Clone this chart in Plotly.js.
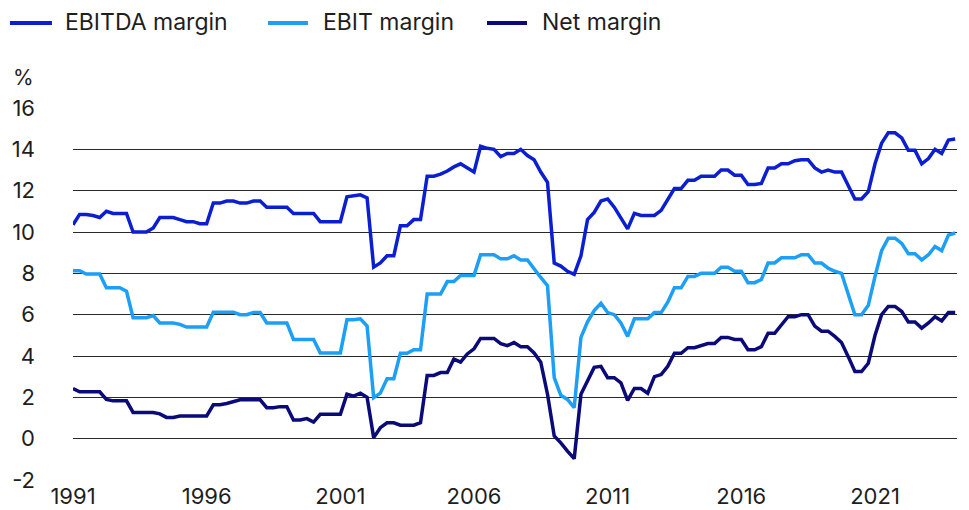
<!DOCTYPE html>
<html>
<head>
<meta charset="utf-8">
<script src="https://cdn.plot.ly/plotly-3.0.1.min.js"></script>
<style>
  html, body { margin: 0; padding: 0; background: #ffffff; }
  #chart { width: 969px; height: 510px; }
</style>
</head>
<body>
<div id="chart"></div>
<script>
// Quarterly observations, 1991 Q1 .. 2024 Q1 (%)
const firstYear = 1991;
const seriesNames = ["EBITDA margin", "EBIT margin", "Net margin"];
const seriesColors = ["#0b1fd1", "#1c9ff5", "#0a0a78"];

const ebitdaMargin = [
  10.35, 10.85, 10.85, 10.8,   // 1991
  10.7, 11.0, 10.9, 10.9,      // 1992
  10.9, 10.0, 10.0, 10.0,      // 1993
  10.2, 10.7, 10.7, 10.7,      // 1994
  10.6, 10.5, 10.5, 10.4,      // 1995
  10.4, 11.4, 11.4, 11.5,      // 1996
  11.5, 11.4, 11.4, 11.5,      // 1997
  11.5, 11.2, 11.2, 11.2,      // 1998
  11.2, 10.9, 10.9, 10.9,      // 1999
  10.9, 10.5, 10.5, 10.5,      // 2000
  10.5, 11.7, 11.75, 11.8,     // 2001
  11.65, 8.3, 8.5, 8.85,       // 2002
  8.85, 10.3, 10.3, 10.6,      // 2003
  10.6, 12.7, 12.7, 12.8,      // 2004
  12.95, 13.15, 13.3, 13.1,    // 2005
  12.9, 14.15, 14.05, 14.0,    // 2006
  13.65, 13.8, 13.8, 14.0,     // 2007
  13.7, 13.5, 12.9, 12.4,      // 2008
  8.5, 8.35, 8.1, 7.95,        // 2009
  8.85, 10.6, 10.95, 11.5,     // 2010
  11.6, 11.2, 10.7, 10.15,     // 2011
  10.9, 10.8, 10.8, 10.8,      // 2012
  11.05, 11.55, 12.1, 12.1,    // 2013
  12.5, 12.5, 12.7, 12.7,      // 2014
  12.7, 13.0, 13.0, 12.75,     // 2015
  12.75, 12.3, 12.3, 12.35,    // 2016
  13.1, 13.1, 13.3, 13.3,      // 2017
  13.45, 13.5, 13.5, 13.1,     // 2018
  12.9, 13.0, 12.9, 12.9,      // 2019
  12.2, 11.6, 11.6, 11.95,     // 2020
  13.3, 14.3, 14.8, 14.8,      // 2021
  14.55, 13.95, 13.95, 13.3,   // 2022
  13.55, 14.0, 13.8, 14.45,    // 2023
  14.5                         // 2024
];

const ebitMargin = [
  8.13, 8.13, 7.97, 7.97,      // 1991
  7.97, 7.3, 7.3, 7.3,         // 1992
  7.13, 5.85, 5.85, 5.85,      // 1993
  5.96, 5.6, 5.6, 5.6,         // 1994
  5.53, 5.4, 5.4, 5.4,         // 1995
  5.4, 6.12, 6.12, 6.12,       // 1996
  6.12, 6.0, 6.0, 6.1,         // 1997
  6.1, 5.6, 5.6, 5.6,          // 1998
  5.6, 4.8, 4.8, 4.8,          // 1999
  4.8, 4.15, 4.15, 4.15,       // 2000
  4.15, 5.75, 5.75, 5.8,       // 2001
  5.45, 1.98, 2.2, 2.9,        // 2002
  2.9, 4.13, 4.13, 4.3,        // 2003
  4.3, 7.0, 7.0, 7.0,          // 2004
  7.6, 7.6, 7.9, 7.9,          // 2005
  7.9, 8.9, 8.9, 8.9,          // 2006
  8.7, 8.7, 8.85, 8.65,        // 2007
  8.65, 8.2, 7.8, 7.4,         // 2008
  2.95, 2.1, 1.9, 1.5,         // 2009
  4.9, 5.65, 6.2, 6.55,        // 2010
  6.1, 6.0, 5.6, 4.95,         // 2011
  5.8, 5.8, 5.8, 6.1,          // 2012
  6.1, 6.6, 7.3, 7.3,          // 2013
  7.85, 7.85, 8.0, 8.0,        // 2014
  8.0, 8.3, 8.3, 8.1,          // 2015
  8.1, 7.55, 7.55, 7.7,        // 2016
  8.5, 8.5, 8.75, 8.75,        // 2017
  8.75, 8.9, 8.9, 8.5,         // 2018
  8.5, 8.25, 8.1, 8.0,         // 2019
  7.0, 6.0, 6.0, 6.45,         // 2020
  7.85, 9.1, 9.7, 9.7,         // 2021
  9.45, 8.95, 8.95, 8.65,      // 2022
  8.9, 9.3, 9.1, 9.85,         // 2023
  9.95                         // 2024
];

const netMargin = [
  2.43, 2.27, 2.27, 2.27,      // 1991
  2.27, 1.9, 1.83, 1.83,       // 1992
  1.83, 1.27, 1.27, 1.27,      // 1993
  1.27, 1.2, 1.03, 1.03,       // 1994
  1.1, 1.1, 1.1, 1.1,          // 1995
  1.1, 1.64, 1.64, 1.7,        // 1996
  1.78, 1.88, 1.88, 1.88,      // 1997
  1.88, 1.5, 1.5, 1.55,        // 1998
  1.55, 0.9, 0.9, 0.97,        // 1999
  0.8, 1.18, 1.18, 1.18,       // 2000
  1.18, 2.15, 2.06, 2.2,       // 2001
  2.0, 0.05, 0.53, 0.77,       // 2002
  0.77, 0.65, 0.65, 0.65,      // 2003
  0.77, 3.06, 3.06, 3.2,       // 2004
  3.2, 3.85, 3.7, 4.1,         // 2005
  4.35, 4.85, 4.85, 4.85,      // 2006
  4.6, 4.5, 4.65, 4.45,        // 2007
  4.45, 4.15, 3.7, 2.15,       // 2008
  0.13, -0.2, -0.6, -0.97,     // 2009
  2.15, 2.8, 3.45, 3.5,        // 2010
  2.95, 2.95, 2.7, 1.85,       // 2011
  2.43, 2.43, 2.2, 3.0,        // 2012
  3.1, 3.5, 4.13, 4.13,        // 2013
  4.4, 4.4, 4.5, 4.6,          // 2014
  4.6, 4.9, 4.9, 4.8,          // 2015
  4.8, 4.3, 4.3, 4.45,         // 2016
  5.1, 5.1, 5.5, 5.9,          // 2017
  5.9, 6.0, 6.0, 5.45,         // 2018
  5.2, 5.2, 4.95, 4.65,        // 2019
  3.97, 3.25, 3.25, 3.65,      // 2020
  5.0, 6.0, 6.4, 6.4,          // 2021
  6.15, 5.65, 5.65, 5.35,      // 2022
  5.6, 5.9, 5.7, 6.1,          // 2023
  6.1                          // 2024
];

const tickYears = ["1991", "1996", "2001", "2006", "2011", "2016", "2021"];
const yTicks = [-2, 0, 2, 4, 6, 8, 10, 12, 14, 16];

// quarter index -> date string
function quarterDate(i) {
  const y = firstYear + Math.floor(i / 4);
  const m = 1 + 3 * (i % 4);
  return y + "-" + String(m).padStart(2, "0") + "-01";
}

const allSeries = [ebitdaMargin, ebitMargin, netMargin];
const FONT = "Inter, 'Noto Sans', sans-serif";
const TXT = "#1e1e1e";

const traces = allSeries.map((vals, s) => ({
  type: "scatter",
  mode: "lines",
  name: seriesNames[s],
  x: vals.map((_, i) => quarterDate(i)),
  y: vals,
  line: { color: seriesColors[s], width: 3.5, shape: "linear" },
  showlegend: false,
  hoverinfo: "skip"
}));

// Legend keys drawn in paper coordinates above the plot
const legendKeyX = [[-0.0713, -0.0238], [0.2206, 0.2658], [0.4683, 0.5136]];
const legendTextX = [-0.0113, 0.2805, 0.5283];
const legendY = 1.2285;

const shapes = seriesNames.map((_, s) => ({
  type: "line", xref: "paper", yref: "paper",
  x0: legendKeyX[s][0], x1: legendKeyX[s][1], y0: legendY, y1: legendY,
  line: { color: seriesColors[s], width: 4 }
}));

const annotations = seriesNames.map((name, s) => ({
  text: name, xref: "paper", yref: "paper",
  x: legendTextX[s], y: legendY + 0.004,
  xanchor: "left", yanchor: "middle", showarrow: false,
  font: { family: FONT, size: 23, color: TXT }
}));
annotations.push({
  text: "%",
  xref: "paper", yref: "paper",
  x: -0.0419, y: 1.0833,
  xanchor: "right", yanchor: "middle",
  showarrow: false,
  font: { family: FONT, size: 21, color: TXT }
});

const layout = {
  width: 969,
  height: 510,
  margin: { l: 73, r: 12, t: 108, b: 30, pad: 0 },
  paper_bgcolor: "#ffffff",
  plot_bgcolor: "#ffffff",
  showlegend: false,
  xaxis: {
    type: "date",
    range: ["1991-01-01", "2024-01-26"],
    tickmode: "array",
    tickvals: tickYears.map(y => y + "-01-01"),
    ticktext: tickYears,
    showgrid: false,
    zeroline: false,
    showline: false,
    ticks: "",
    ticklabelstandoff: 1,
    tickfont: { family: FONT, size: 22, color: TXT },
    fixedrange: true
  },
  yaxis: {
    range: [-2, 16],
    tickmode: "array",
    tickvals: yTicks,
    ticktext: yTicks.map(String),
    showgrid: true,
    gridcolor: "#2a2a2a",
    gridwidth: 1,
    zeroline: false,
    showline: false,
    ticks: "",
    ticklabelstandoff: 37,
    tickfont: { family: FONT, size: 22, color: TXT },
    fixedrange: true
  },
  shapes: shapes,
  annotations: annotations
};

Plotly.newPlot("chart", traces, layout, { displayModeBar: false, staticPlot: true });
</script>
</body>
</html>
